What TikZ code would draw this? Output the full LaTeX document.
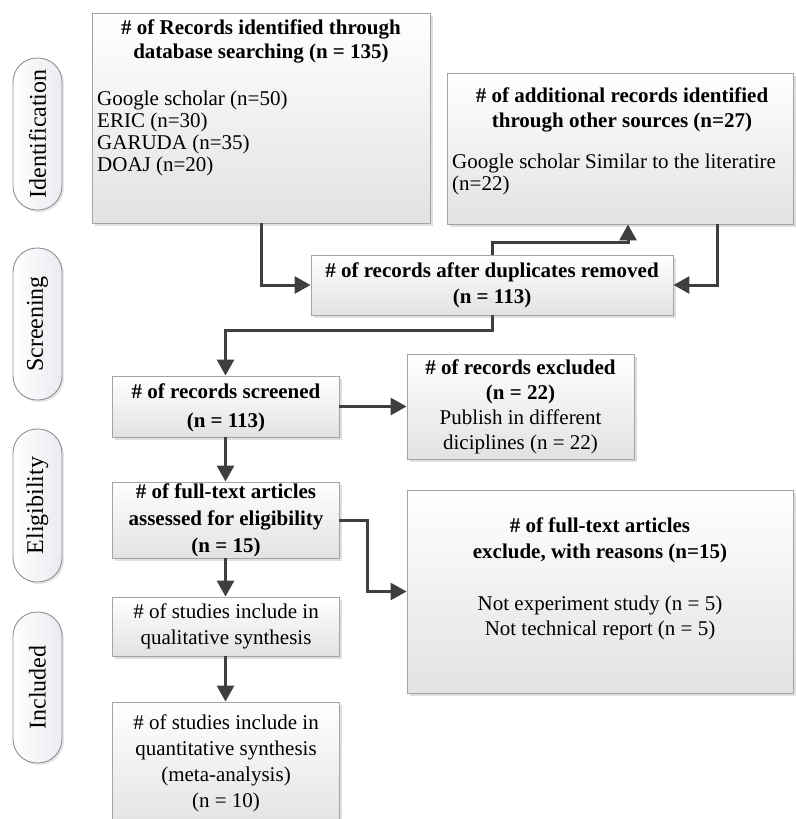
\documentclass[tikz,border=0pt]{standalone}
\usepackage{fontspec}
\setmainfont{Liberation Serif}
\usetikzlibrary{arrows.meta,shadows,calc}
\definecolor{boxborder}{HTML}{A4A4A4}
\definecolor{boxbot}{HTML}{E2E2E2}
\definecolor{pillborder}{HTML}{8E9096}
\definecolor{pillbot}{HTML}{E9EBEF}
\definecolor{arrowcol}{HTML}{3F3F3F}
\begin{document}
\begin{tikzpicture}[x=1pt,y=-1pt,
  box/.style={draw=boxborder, line width=0.9pt, top color=white, bottom color=boxbot,
    drop shadow={shadow xshift=2.5pt, shadow yshift=-2.5pt, opacity=0.25, fill=black!50},
    inner sep=0pt},
  pill/.style={draw=pillborder, line width=0.9pt, rounded corners=24pt, left color=white, right color=pillbot,
    drop shadow={shadow xshift=2pt, shadow yshift=-2pt, opacity=0.2, fill=black!50},
    inner sep=0pt, minimum width=49pt},
  txt/.style={inner sep=0pt, align=center, font=\fontsize{21}{#1}\selectfont},
  txt/.default=25,
  btxt/.style={txt=#1, font=\fontsize{21}{#1}\selectfont\bfseries},
  btxt/.default=25,
  stage/.style={inner sep=0pt, rotate=90, font=\fontsize{24}{26}\selectfont},
  arr/.style={draw=arrowcol, line width=3pt, -{Triangle[length=16pt,width=17pt]}}
]
\useasboundingbox (0,0) rectangle (795,819);

% stage pills
\node[pill, minimum height=152pt] (p1) at (37.5,134) {};
\node[stage] (p1t) at (p1.center) {Identification};
\node[pill, minimum height=152pt] (p2) at (37.5,324) {};
\node[stage] (p2t) at (p2.center) {Screening};
\node[pill, minimum height=153pt] (p3) at (37.5,505.5) {};
\node[stage] (p3t) at (p3.center) {Eligibility};
\node[pill, minimum height=151pt] (p4) at (37.5,687.5) {};
\node[stage] (p4t) at (p4.center) {Included};

% boxes
\node[box, minimum width=338pt, minimum height=210pt] (A) at (261,118) {};
\node[box, minimum width=346pt, minimum height=151pt] (B) at (620,148.5) {};
\node[box, minimum width=362pt, minimum height=60pt] (C) at (492,285) {};
\node[box, minimum width=227pt, minimum height=61pt] (D) at (225.5,406.5) {};
\node[box, minimum width=227pt, minimum height=105pt] (E) at (520.5,406.5) {};
\node[box, minimum width=227pt, minimum height=76pt] (F) at (225.5,520) {};
\node[box, minimum width=386pt, minimum height=203pt] (G) at (600,591.5) {};
\node[box, minimum width=227pt, minimum height=59pt] (H) at (225.5,626.5) {};
\node[box, minimum width=227pt, minimum height=128pt] (I) at (225.5,766) {};

% texts
\node[btxt=24] (At) at (261,41) {\# of Records identified through\\database searching (n = 135)};
\node[txt=22, anchor=west, align=left] (Al) at (97,133) {Google scholar (n=50)\\ERIC (n=30)\\GARUDA (n=35)\\DOAJ (n=20)};
\node[btxt=25] (Bt) at (622,109.5) {\# of additional records identified\\through other sources (n=27)};
\node[txt=22, anchor=west, align=left] (Bl) at (452,174) {Google scholar Similar to the literatire\\(n=22)};
\node[btxt=26] (Ct) at (492,285) {\# of records after duplicates removed\\(n = 113)};
\node[btxt=29] (Dt) at (226,407.5) {\# of records screened\\(n = 113)};
\node[txt=25] (Et) at (520.5,406.5) {\textbf{\# of records excluded}\\\textbf{(n = 22)}\\Publish in different\\diciplines (n = 22)};
\node[btxt=27] (Ft) at (226,520) {\# of full-text articles\\assessed for eligibility\\(n = 15)};
\node[btxt=26] (Gt) at (600,540) {\# of full-text articles\\exclude, with reasons (n=15)};
\node[txt=25] (Gl) at (600,617.5) {Not experiment study (n = 5)\\Not technical report (n = 5)};
\node[txt=26] (Ht) at (226,626) {\# of studies include in\\qualitative synthesis};
\node[txt=26] (It) at (226,763) {\# of studies include in\\quantitative synthesis\\(meta-analysis)\\(n = 10)};

% connectors
\coordinate (bup) at (628,242);
\coordinate (bdn) at (717,0);
\draw[arr] (A.south) |- (C.west);
\draw[arr] (C.north) |- (bup) -- (bup |- B.south);
\draw[arr] (B.south -| bdn) |- (C.east);
\draw[arr] (C.south) -- ++(0,15) -| (D.north);
\draw[arr] (D.east) -- (D.east -| E.west);
\draw[arr] (D.south) -- (F.north);
\draw[arr] (F.east) -- ++(28,0) |- (G.west);
\draw[arr] (F.south) -- (H.north);
\draw[arr] (H.south) -- (I.north);
\end{tikzpicture}
\end{document}
